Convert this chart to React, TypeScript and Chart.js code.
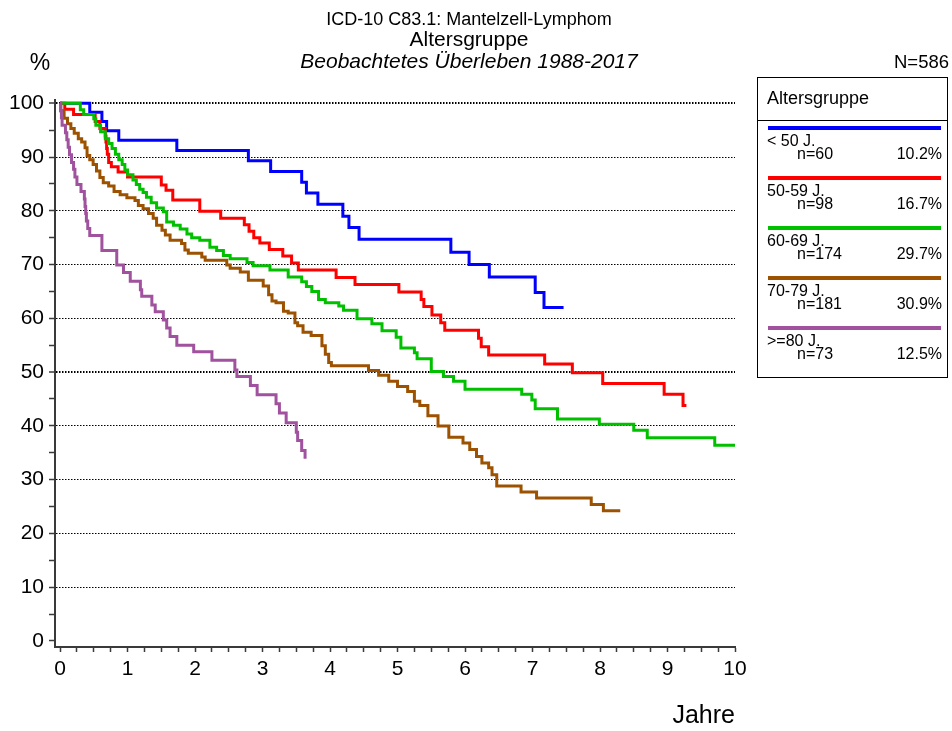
import { useEffect, useRef } from 'react';
import { Chart, registerables } from 'chart.js';

Chart.register(...registerables);

// ---- Text ----
const titleLines = ['ICD-10 C83.1: Mantelzell-Lymphom', 'Altersgruppe', 'Beobachtetes Überleben 1988-2017'];
const yUnitLabel = '%';
const totalLabel = 'N=586';
const xAxisTitle = 'Jahre';
const legendTitle = 'Altersgruppe';

// ---- Groups ----
const groupLabels = ['< 50 J.', '50-59 J.', '60-69 J.', '70-79 J.', '>=80 J.'];
const groupN = [60, 98, 174, 181, 73];
const groupPct = ['10.2%', '16.7%', '29.7%', '30.9%', '12.5%'];
const groupColors = ['#0000FF', '#FF0000', '#00C000', '#9C5200', '#A0529F'];

// ---- Survival curves (years, %) ----
const u50Time = [0, 0.44, 0.62, 0.69, 0.87, 1.73, 2.79, 3.12, 3.58, 3.65, 3.82, 4.19, 4.28, 4.43, 5.79, 6.06, 6.36, 7.04, 7.17, 7.46];
const u50Surv = [100, 98.3, 96.6, 94.9, 93.1, 91.2, 89.3, 87.3, 85.3, 83.3, 81.2, 79.0, 76.9, 74.7, 72.3, 70.0, 67.7, 64.8, 62.0, 62.0];

const a5059Time = [0, 0.07, 0.2, 0.52, 0.59, 0.67, 0.68, 0.69, 0.70, 0.72, 0.76, 0.86, 1.0, 1.5, 1.57, 1.67, 2.07, 2.38, 2.73, 2.8, 2.87, 2.96, 3.1, 3.3, 3.43, 3.53, 4.09, 4.37, 5.02, 5.35, 5.39, 5.51, 5.64, 5.7, 6.2, 6.24, 6.35, 7.18, 7.59, 8.04, 8.95, 9.23, 9.28];
const a5059Surv = [100, 98.9, 97.9, 96.6, 95.3, 93.9, 92.8, 91.6, 90.5, 89.0, 88.2, 87.2, 86.3, 84.8, 83.8, 82.0, 79.9, 78.6, 77.4, 76.2, 75.0, 74.0, 72.8, 71.6, 70.3, 69.0, 67.6, 66.3, 64.9, 63.5, 62.2, 60.6, 59.2, 57.8, 56.3, 54.7, 53.2, 51.5, 49.9, 47.9, 45.9, 43.8, 43.8];

const a6069Time = [0, 0.3, 0.35, 0.5, 0.53, 0.6, 0.67, 0.72, 0.77, 0.82, 0.87, 0.92, 0.96, 1.0, 1.08, 1.13, 1.18, 1.23, 1.28, 1.35, 1.43, 1.53, 1.58, 1.68, 1.78, 1.88, 1.95, 2.07, 2.22, 2.32, 2.42, 2.52, 2.77, 2.86, 3.11, 3.38, 3.58, 3.65, 3.73, 3.83, 3.93, 4.13, 4.2, 4.4, 4.62, 4.77, 4.98, 5.05, 5.25, 5.29, 5.5, 5.68, 5.83, 6.0, 6.84, 6.99, 7.04, 7.37, 7.99, 8.5, 8.7, 9.7, 10.0];
const a6069Surv = [100, 98.8, 97.9, 97.1, 95.9, 94.7, 93.4, 92.5, 91.6, 90.5, 89.5, 88.6, 87.6, 86.7, 85.7, 84.9, 84.0, 83.4, 82.5, 81.5, 80.5, 79.8, 77.9, 77.3, 76.6, 75.7, 75.0, 74.5, 73.2, 72.6, 71.7, 71.1, 70.4, 69.8, 69.0, 67.7, 66.8, 65.9, 65.0, 63.5, 62.9, 62.3, 61.5, 59.9, 59.0, 57.7, 56.5, 54.5, 53.6, 52.5, 50.1, 49.2, 48.3, 46.8, 45.9, 44.8, 43.2, 41.3, 40.3, 39.2, 37.8, 36.4, 36.4];

const a7079Time = [0, 0.01, 0.06, 0.11, 0.16, 0.21, 0.27, 0.32, 0.37, 0.4, 0.44, 0.49, 0.54, 0.59, 0.64, 0.72, 0.8, 0.89, 0.99, 1.11, 1.16, 1.23, 1.31, 1.38, 1.43, 1.51, 1.56, 1.63, 1.8, 1.85, 1.9, 2.1, 2.15, 2.47, 2.52, 2.67, 2.79, 3.01, 3.09, 3.14, 3.2, 3.31, 3.38, 3.48, 3.52, 3.6, 3.72, 3.88, 3.93, 3.98, 4.02, 4.57, 4.72, 4.87, 5.0, 5.15, 5.25, 5.33, 5.45, 5.6, 5.76, 5.97, 6.07, 6.17, 6.25, 6.35, 6.4, 6.47, 6.83, 7.06, 7.87, 8.05, 8.3];
const a7079Surv = [100, 98.6, 97.2, 96.2, 95.3, 94.4, 93.4, 92.8, 91.7, 90.3, 89.5, 88.6, 87.4, 86.2, 85.2, 84.6, 83.6, 83.0, 82.4, 81.9, 81.0, 80.4, 79.5, 78.6, 77.3, 76.4, 75.5, 74.5, 73.9, 72.7, 72.1, 71.4, 70.8, 69.9, 69.3, 68.6, 67.1, 66.0, 64.4, 63.2, 62.9, 61.3, 61.0, 59.2, 58.6, 57.4, 56.8, 54.9, 53.3, 51.8, 51.2, 50.3, 49.4, 48.3, 47.3, 46.4, 44.6, 43.8, 41.9, 40.0, 37.9, 36.8, 35.6, 34.3, 33.1, 32.2, 30.9, 28.8, 27.7, 26.6, 25.4, 24.2, 24.2];

const a80Time = [0, 0.01, 0.02, 0.03, 0.08, 0.1, 0.12, 0.14, 0.17, 0.2, 0.22, 0.25, 0.31, 0.36, 0.37, 0.38, 0.39, 0.41, 0.44, 0.62, 0.84, 0.94, 1.04, 1.19, 1.21, 1.36, 1.41, 1.53, 1.58, 1.63, 1.73, 1.98, 2.25, 2.59, 2.62, 2.82, 2.92, 3.2, 3.25, 3.35, 3.5, 3.52, 3.58, 3.63];
const a80Surv = [100, 98.6, 97.3, 95.9, 94.5, 93.2, 91.8, 90.4, 89.0, 87.7, 86.3, 84.9, 83.6, 82.2, 80.8, 79.5, 78.1, 76.7, 75.4, 72.6, 69.9, 68.5, 66.9, 65.3, 64.1, 62.5, 61.2, 59.7, 58.2, 56.6, 55.0, 53.8, 52.2, 50.4, 49.2, 47.5, 45.8, 44.1, 42.4, 40.6, 38.8, 37.3, 35.4, 33.9];

const seriesTimes = [u50Time, a5059Time, a6069Time, a7079Time, a80Time];
const seriesSurv = [u50Surv, a5059Surv, a6069Surv, a7079Surv, a80Surv];

// ---- Axes ----
const xMajorTicks = [0, 1, 2, 3, 4, 5, 6, 7, 8, 9, 10];
const xMinorPerMajor = 4;
const yMajorTicks = [0, 10, 20, 30, 40, 50, 60, 70, 80, 90, 100];
const yBoldGrid = [50, 100];

const FONT = '"Liberation Sans", Arial, sans-serif';
const AXIS_COLOR = '#3a3a3a';

function buildXTicks() {
  const out: { value: number }[] = [];
  for (let i = 0; i < xMajorTicks.length; i++) {
    out.push({ value: xMajorTicks[i] });
    if (i < xMajorTicks.length - 1) {
      const step = (xMajorTicks[i + 1] - xMajorTicks[i]) / xMinorPerMajor;
      for (let k = 1; k < xMinorPerMajor; k++) out.push({ value: xMajorTicks[i] + k * step });
    }
  }
  return out;
}
function buildYTicks() {
  const out: { value: number }[] = [];
  for (let i = 0; i < yMajorTicks.length; i++) {
    out.push({ value: yMajorTicks[i] });
    if (i < yMajorTicks.length - 1) out.push({ value: (yMajorTicks[i] + yMajorTicks[i + 1]) / 2 });
  }
  return out;
}

const textPlugin = {
  id: 'textPlugin',
  afterDraw(chart: any) {
    const ctx = chart.ctx as CanvasRenderingContext2D;
    ctx.save();
    ctx.fillStyle = '#000';
    ctx.textBaseline = 'middle';
    ctx.textAlign = 'center';
    ctx.font = `18px ${FONT}`;
    ctx.fillText(titleLines[0], 469, 20);
    ctx.font = `21px ${FONT}`;
    ctx.fillText(titleLines[1], 469, 40);
    ctx.font = `italic 21px ${FONT}`;
    ctx.fillText(titleLines[2], 469, 62);

    ctx.font = `23px ${FONT}`;
    ctx.fillText(yUnitLabel, 40, 64);
    ctx.textAlign = 'right';
    ctx.font = `18.5px ${FONT}`;
    ctx.fillText(totalLabel, 949, 63);

    // legend box
    const bx = 757.5, by = 77.5, bw = 190, bh = 300;
    ctx.strokeStyle = '#000';
    ctx.lineWidth = 1;
    ctx.strokeRect(bx, by, bw, bh);
    ctx.beginPath();
    ctx.moveTo(bx, 120.5);
    ctx.lineTo(bx + bw, 120.5);
    ctx.stroke();
    ctx.textAlign = 'left';
    ctx.font = `18px ${FONT}`;
    ctx.fillText(legendTitle, 767, 99);

    for (let i = 0; i < groupLabels.length; i++) {
      const ly = 128 + 50 * i;
      ctx.strokeStyle = groupColors[i];
      ctx.lineWidth = 4;
      ctx.beginPath();
      ctx.moveTo(768, ly);
      ctx.lineTo(941, ly);
      ctx.stroke();
      ctx.fillStyle = '#000';
      ctx.font = `16px ${FONT}`;
      ctx.textAlign = 'left';
      ctx.fillText(groupLabels[i], 767, ly + 14);
      ctx.fillText('n=' + groupN[i], 797, ly + 27);
      ctx.textAlign = 'right';
      ctx.fillText(groupPct[i], 942, ly + 27);
    }
    ctx.restore();
  },
};

export default function App() {
  const ref = useRef<HTMLCanvasElement>(null);

  useEffect(() => {
    if (!ref.current) return;
    const datasets = seriesTimes.map((times, i) => ({
      label: groupLabels[i],
      data: times.map((t, j) => ({ x: t, y: seriesSurv[i][j] })),
      borderColor: groupColors[i],
      backgroundColor: groupColors[i],
      borderWidth: 3,
      pointRadius: 0,
      stepped: 'before' as const,
      fill: false,
      order: seriesTimes.length - 1 - i,
    }));

    const chart = new Chart(ref.current, {
      type: 'line',
      data: { datasets },
      options: {
        animation: false,
        responsive: false,
        layout: { padding: { top: 100, left: 0, right: 217, bottom: 0 } },
        plugins: { legend: { display: false }, tooltip: { enabled: false }, title: { display: false } },
        scales: {
          x: {
            type: 'linear',
            min: -0.075,
            max: 10,
            afterBuildTicks: (s: any) => { s.ticks = buildXTicks(); },
            afterFit: (s: any) => { s.height = 84; },
            ticks: {
              autoSkip: false,
              maxRotation: 0,
              padding: 5,
              color: '#000',
              font: { family: FONT, size: 21 },
              callback: (v: any) => (xMajorTicks.includes(Number(v)) ? String(v) : ''),
            },
            grid: { drawOnChartArea: false, drawTicks: true, tickLength: 5, tickColor: AXIS_COLOR, tickWidth: 1.5 },
            border: { color: AXIS_COLOR, width: 2 },
            title: { display: true, text: xAxisTitle, align: 'end', color: '#000', font: { family: FONT, size: 25 }, padding: { top: 0, bottom: 0 } },
          },
          y: {
            type: 'linear',
            min: -1.12,
            max: 100.6,
            afterBuildTicks: (s: any) => { s.ticks = buildYTicks(); },
            afterFit: (s: any) => { s.width = 55; },
            ticks: {
              autoSkip: false,
              padding: 5,
              color: '#000',
              font: { family: FONT, size: 21 },
              callback: (v: any) => (yMajorTicks.includes(Number(v)) ? String(v) : ''),
            },
            grid: {
              drawTicks: true,
              tickLength: 6,
              tickColor: AXIS_COLOR,
              tickWidth: 1.5,
              color: (c: any) => {
                const v = c.tick ? c.tick.value : null;
                return v !== null && v !== 0 && yMajorTicks.includes(v) ? '#000' : 'rgba(0,0,0,0)';
              },
              lineWidth: (c: any) => (c.tick && yBoldGrid.includes(c.tick.value) ? 2 : 1),
            },
            border: { color: AXIS_COLOR, width: 2, dash: [1.5, 1.5] },
          },
        },
      },
      plugins: [textPlugin],
    } as any);
    return () => chart.destroy();
  }, []);

  return (
    <div style={{ position: 'fixed', left: 0, top: 0, width: 952, height: 731, background: '#fff' }}>
      <canvas ref={ref} width={952} height={731} style={{ display: 'block', width: 952, height: 731 }} />
    </div>
  );
}
